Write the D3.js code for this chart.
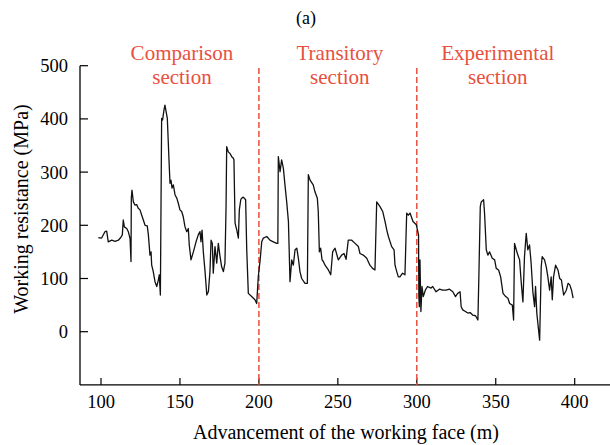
<!DOCTYPE html>
<html>
<head>
<meta charset="utf-8">
<script src="https://cdn.jsdelivr.net/npm/d3@7"></script>
<style>
  body { margin: 0; background: #fff; }
  svg text { font-family: "Liberation Serif", "DejaVu Serif", serif; }
</style>
</head>
<body>
<script>
// advancement of the working face (m)
var advance = [98.3, 100.4, 102.5, 103.6, 104.6, 106.8, 108.9, 111, 112.5, 113.5,
  114.1, 114.8, 116.3, 117.3, 118.4, 119, 119.2, 119.6, 120.5, 121.5,
  122.6, 123.6, 124.7, 125.8, 126.8, 127.9, 129.3, 130, 130.6, 131,
  131.7, 132.1, 133.1, 134.2, 135.3, 136.3, 136.9, 137.6, 138.4, 139,
  139.9, 140.5, 141.2, 142, 142.6, 143.1, 143.7, 144.3, 145, 145.8,
  146.9, 148, 149, 150, 151.1, 152.1, 153.2, 154.3, 155.3, 155.9,
  157, 158.5, 160.2, 161.6, 162.7, 163.3, 164, 164.8, 165.9, 167,
  168, 169, 169.7, 170.5, 171.1, 172.2, 173.3, 174.3, 175.4, 176.4,
  177.5, 178.5, 179.2, 179.6, 180.6, 181.7, 182.8, 183.8, 184.2, 184.9,
  186, 187, 187.6, 188.5, 189.1, 190.1, 191.6, 192.3, 193.3, 195.4,
  197.5, 198.6, 199.6, 200.3, 200.7, 201.8, 202.8, 205, 207, 209.1,
  211.3, 212, 212.3, 213.4, 214.4, 215.5, 216.5, 217.6, 218.7, 219.7,
  220.8, 221.8, 222.9, 224, 225, 226, 227.1, 229.2, 230.7, 231.3,
  232.4, 234.4, 235.5, 237, 237.6, 238.3, 239.1, 240, 240.8, 241.9,
  244, 245.5, 246.7, 248.2, 250.3, 252.4, 253.9, 255.2, 256.6, 258.8,
  260.9, 263, 264, 266.1, 268.3, 270.3, 272, 273.5, 274.6, 276.7,
  278.4, 279.9, 281, 282, 284.1, 285.6, 286.2, 287.3, 288.3, 289.3,
  291, 292.5, 293.6, 294.6, 295.7, 297.6, 299.7, 301.1, 301.3, 301.6,
  302, 302.6, 303.3, 304.1, 305.4, 306.8, 309, 310.1, 312.2, 314.3,
  316.4, 318.5, 320.7, 322.8, 324.5, 325.9, 327.4, 328.1, 329.1, 330.8,
  332.3, 333.8, 335.5, 337.2, 338.7, 339.3, 340.2, 340.8, 342.3, 342.9,
  344, 345, 346.1, 347.8, 349.3, 350.3, 351.8, 353.1, 354.6, 356.3,
  357.7, 358.8, 360.5, 361.3, 361.9, 363, 364, 365.1, 366.1, 367.2,
  368.2, 369.3, 370.3, 371.4, 372.4, 373.5, 374.6, 375.2, 376, 377.8,
  378.8, 379.4, 380.9, 382, 383, 384.1, 385.1, 385.8, 386.6, 387.9,
  389.4, 390.5, 391.6, 393, 394.7, 395.8, 396.9, 398, 399];

// working resistance (MPa)
var resistance = [177, 176, 188, 189, 169, 172, 170, 172, 177, 182,
  210, 197, 194, 188, 175, 132, 251, 266, 244, 238,
  239, 232, 229, 219, 210, 200, 199, 182, 160, 144,
  150, 125, 113, 94, 85, 97, 107, 69, 401, 398,
  417, 426, 414, 401, 357, 320, 279, 285, 270, 276,
  257, 251, 241, 229, 226, 216, 197, 188, 194, 163,
  135, 150, 169, 182, 188, 169, 191, 150, 113, 69,
  75, 113, 172, 166, 110, 160, 129, 166, 141, 122,
  113, 129, 235, 348, 338, 335, 329, 326, 323, 204,
  191, 176, 229, 248, 251, 253, 248, 154, 72, 66,
  60, 53, 103, 122, 132, 169, 176, 179, 172, 169,
  166, 166, 329, 301, 323, 307, 276, 244, 207, 94,
  135, 125, 154, 157, 138, 113, 100, 91, 91, 295,
  285, 276, 263, 251, 226, 150, 157, 135, 132, 125,
  116, 107, 150, 157, 135, 144, 147, 136, 172, 172,
  166, 160, 147, 144, 138, 125, 119, 116, 244, 235,
  226, 207, 191, 179, 160, 154, 125, 113, 103, 103,
  110, 107, 223, 219, 223, 207, 201, 182, 66, 47,
  135, 38, 85, 66, 78, 85, 82, 85, 75, 80,
  78, 78, 80, 75, 66, 72, 75, 47, 41, 38,
  35, 36, 31, 30, 22, 103, 235, 244, 248, 223,
  154, 144, 150, 138, 135, 119, 116, 103, 72, 66,
  63, 53, 50, 22, 166, 154, 144, 135, 94, 56,
  141, 185, 154, 163, 129, 75, 47, 85, 35, -16,
  122, 141, 135, 122, 103, 78, 103, 60, 103, 125,
  116, 100, 97, 69, 78, 91, 88, 78, 63];

var xTicks = [100, 150, 200, 250, 300, 350, 400];
var yTicks = [0, 100, 200, 300, 400, 500];
var boundaries = [200, 300];
var sectionNames = [["Comparison", "section"], ["Transitory", "section"], ["Experimental", "section"]];
var sectionCenters = [150, 250, 350];

var width = 610;
var height = 445;
var plotLeft = 80, plotBottom = 384.9, plotTop = 65.7;
var red = "#e8503e";
var serif = "'Liberation Serif', 'DejaVu Serif', serif";

var svg = d3.select("body").append("svg")
  .attr("width", width)
  .attr("height", height)
  .attr("font-family", serif);

// scales, 100 m -> 101 px, 400 m -> 574.7 px
var xChart = d3.scaleLinear()
  .domain([100, 400])
  .range([101, 574.7]);

var yChart = d3.scaleLinear()
  .domain([-100, 500])
  .range([plotBottom, plotTop]);

// bottom axis (ticks point inward)
var xAxis = svg.append("g")
  .attr("transform", "translate(0," + plotBottom + ")");
xAxis.append("line")
  .attr("x1", plotLeft).attr("x2", width)
  .attr("stroke", "#000").attr("stroke-width", 1.3);
xAxis.selectAll(".xt")
  .data(xTicks)
  .enter().append("line")
  .attr("x1", function(d) { return xChart(d); })
  .attr("x2", function(d) { return xChart(d); })
  .attr("y1", 0).attr("y2", -7)
  .attr("stroke", "#000").attr("stroke-width", 1.2);
xAxis.selectAll(".xl")
  .data(xTicks)
  .enter().append("text")
  .attr("x", function(d) { return xChart(d); })
  .attr("y", 23)
  .attr("text-anchor", "middle")
  .style("font-family", serif)
  .style("font-size", "18.5px")
  .text(function(d) { return d; });

// left axis
var yAxis = svg.append("g")
  .attr("transform", "translate(" + plotLeft + ",0)");
yAxis.append("line")
  .attr("y1", plotTop).attr("y2", plotBottom)
  .attr("stroke", "#000").attr("stroke-width", 1.3);
yAxis.selectAll(".yt")
  .data(yTicks)
  .enter().append("line")
  .attr("y1", function(d) { return yChart(d); })
  .attr("y2", function(d) { return yChart(d); })
  .attr("x1", 0).attr("x2", 8)
  .attr("stroke", "#000").attr("stroke-width", 1.2);
yAxis.selectAll(".yl")
  .data(yTicks)
  .enter().append("text")
  .attr("x", -12)
  .attr("y", function(d) { return yChart(d); })
  .attr("dy", "0.35em")
  .attr("text-anchor", "end")
  .style("font-family", serif)
  .style("font-size", "18.5px")
  .text(function(d) { return d; });

// axis titles
svg.append("text")
  .attr("x", 346)
  .attr("y", 439)
  .attr("text-anchor", "middle")
  .style("font-family", serif)
  .style("font-size", "20px")
  .text("Advancement of the working face (m)");

svg.append("text")
  .attr("transform", "translate(28,209) rotate(-90)")
  .attr("text-anchor", "middle")
  .style("font-family", serif)
  .style("font-size", "20px")
  .text("Working resistance (MPa)");

// panel label
svg.append("text")
  .attr("x", 306)
  .attr("y", 24)
  .attr("text-anchor", "middle")
  .style("font-family", serif)
  .style("font-size", "18px")
  .text("(a)");

// section boundaries
svg.selectAll(".bound")
  .data(boundaries)
  .enter().append("line")
  .attr("x1", function(d) { return xChart(d); })
  .attr("x2", function(d) { return xChart(d); })
  .attr("y1", 68).attr("y2", plotBottom)
  .attr("stroke", red)
  .attr("stroke-width", 1.5)
  .attr("stroke-dasharray", "6,3");

// section names
var names = svg.selectAll(".sec")
  .data(sectionNames)
  .enter().append("text")
  .attr("text-anchor", "middle")
  .attr("fill", red)
  .style("font-family", serif)
  .style("font-size", "21px")
  .attr("transform", function(d, i) {
    return "translate(" + (xChart(sectionCenters[i]) + 2) + ",60)";
  });
names.append("tspan")
  .attr("x", 0).attr("dy", 0)
  .text(function(d) { return d[0]; });
names.append("tspan")
  .attr("x", 0).attr("dy", 24)
  .text(function(d) { return d[1]; });

// the resistance line
var line = d3.line()
  .x(function(d, i) { return xChart(advance[i]); })
  .y(function(d) { return yChart(d); });

svg.append("path")
  .datum(resistance)
  .attr("d", line)
  .attr("fill", "none")
  .attr("stroke", "#111")
  .attr("stroke-width", 1.3)
  .attr("stroke-linejoin", "round");
</script>
</body>
</html>
